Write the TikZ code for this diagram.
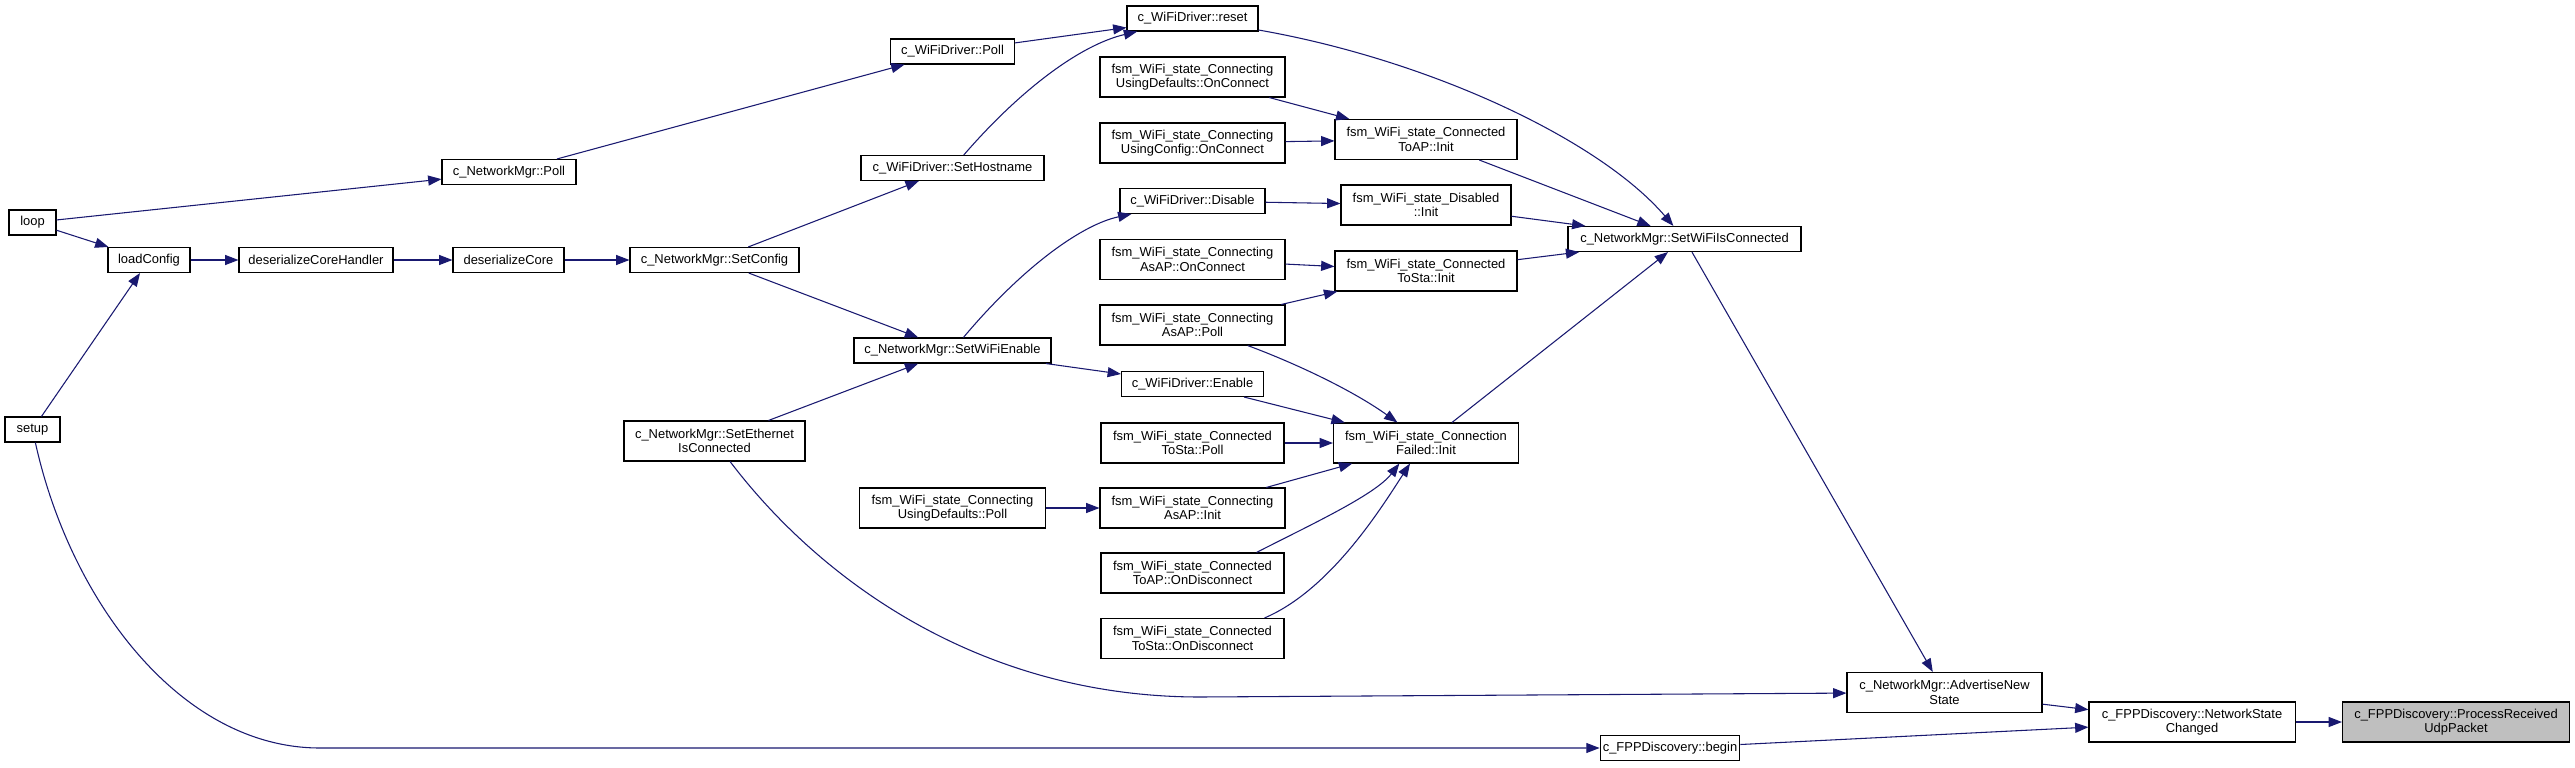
\documentclass[tikz,border=0pt]{standalone}
\usepackage{fontspec}
\setmainfont{Liberation Sans}
\usetikzlibrary{arrows.meta}
\definecolor{edgeblue}{RGB}{25,25,112}
\definecolor{rootgray}{RGB}{191,191,191}
\tikzset{
  fn/.style={draw=black, line width=0.8pt, fill=white, align=center, inner xsep=2pt, inner ysep=0pt,
    font=\fontsize{9.7}{10.75}\selectfont},
  call/.style={edgeblue, line width=0.8pt, -{Triangle[length=10pt,width=7.5pt]}}
}
\begin{document}
\begin{tikzpicture}[x=0.75pt,y=-0.75pt]
\useasboundingbox (0,0) rectangle (2575,767);
        % functions
            \foreach \n/\x/\y/\w/\h/\t in {
                loop/32.5/222.5/47/25/loop,
                setup/32.5/429.5/55/25/setup,
                loadConfig/149/260/82/25/loadConfig,
                dch/316/260/154/25/deserializeCoreHandler,
                dc/508.5/260/111/25/deserializeCore,
                mgrPoll/509/172/134/25/c\_NetworkMgr::Poll,
                setConfig/714.5/260/169/25/c\_NetworkMgr::SetConfig,
                setEth/714.5/441/181/40/c\_NetworkMgr::SetEthernet\\IsConnected,
                drvPoll/952.5/51.5/124/25/c\_WiFiDriver::Poll,
                setHost/952.5/168/183/25/c\_WiFiDriver::SetHostname,
                setEnable/952.5/350.5/197/25/c\_NetworkMgr::SetWiFiEnable,
                udPoll/952.5/508/186/40/fsm\_WiFi\_state\_Connecting\\UsingDefaults::Poll,
                reset/1192.5/18.5/131/25/c\_WiFiDriver::reset,
                udConn/1192.5/77/185/40/fsm\_WiFi\_state\_Connecting\\UsingDefaults::OnConnect,
                ucConn/1192.5/143/185/40/fsm\_WiFi\_state\_Connecting\\UsingConfig::OnConnect,
                disable/1192.5/201/145/25/c\_WiFiDriver::Disable,
                apConn/1192.5/259.5/185/40/fsm\_WiFi\_state\_Connecting\\AsAP::OnConnect,
                apPoll/1192.5/325/185/40/fsm\_WiFi\_state\_Connecting\\AsAP::Poll,
                enable/1192.5/384/142/25/c\_WiFiDriver::Enable,
                staPoll/1192.5/443/183/40/fsm\_WiFi\_state\_Connected\\ToSta::Poll,
                apInit/1192.5/508/185/40/fsm\_WiFi\_state\_Connecting\\AsAP::Init,
                apDisc/1192.5/573/183/40/fsm\_WiFi\_state\_Connected\\ToAP::OnDisconnect,
                staDisc/1192.5/638.5/183/40/fsm\_WiFi\_state\_Connected\\ToSta::OnDisconnect,
                toAPInit/1426/139.5/182/40/fsm\_WiFi\_state\_Connected\\ToAP::Init,
                disInit/1426/205/170/40/fsm\_WiFi\_state\_Disabled\\::Init,
                toStaInit/1426/271/182/40/fsm\_WiFi\_state\_Connected\\ToSta::Init,
                failInit/1426/443/185/40/fsm\_WiFi\_state\_Connection\\Failed::Init,
                isConn/1684.5/239/233/25/c\_NetworkMgr::SetWiFiIsConnected,
                advert/1944.5/692.5/195/40/c\_NetworkMgr::AdvertiseNew\\State,
                begin/1670/748/135/25/c\_FPPDiscovery::begin,
                netChg/2192/722/206/40/c\_FPPDiscovery::NetworkState\\Changed}{
                \node[fn, minimum width=\w*0.75pt, minimum height=\h*0.75pt] (\n) at (\x,\y) {\t};
            }
            \node[fn, fill=rootgray, minimum width=170.25pt, minimum height=30pt] (udp) at (2456,722) {c\_FPPDiscovery::ProcessReceived\\UdpPacket};
        % calls
            \foreach \a/\b in {loop/mgrPoll, loop/loadConfig, setup/loadConfig, loadConfig/dch, dch/dc,
                dc/setConfig, mgrPoll/drvPoll, setConfig/setHost, setConfig/setEnable, setEth/setEnable,
                drvPoll/reset, setEnable/enable, udConn/toAPInit, ucConn/toAPInit, disable/disInit,
                apConn/toStaInit, apPoll/toStaInit, enable/failInit, staPoll/failInit, apInit/failInit,
                udPoll/apInit, toAPInit/isConn, disInit/isConn, toStaInit/isConn, failInit/isConn,
                isConn/advert, advert/netChg, begin/netChg, netChg/udp}{
                \draw[call] (\a) -- (\b);
            }
            \draw[call] (setHost) .. controls (1020,90) and (1080,45) .. (reset);
            \draw[call] (setEnable) .. controls (1020,270) and (1080,225) .. (disable);
            \draw[call] (reset) .. controls (1430,60) and (1600,140) .. (isConn);
            \draw[call] (apPoll) .. controls (1300,365) and (1355,392) .. (failInit);
            \draw[call] ([xshift=48pt]apDisc.north) .. controls (1310,525) and (1375,495) .. ([xshift=-20pt]failInit.south);
            \draw[call] ([xshift=54pt]staDisc.north) .. controls (1330,590) and (1380,510) .. ([xshift=-12pt]failInit.south);
            \draw[call] (setEth) .. controls (820,580) and (980,697) .. (1200,697) -- (advert);
            \draw[call] (setup) .. controls (70,600) and (180,748) .. (320,748) -- (begin);
\end{tikzpicture}
\end{document}
